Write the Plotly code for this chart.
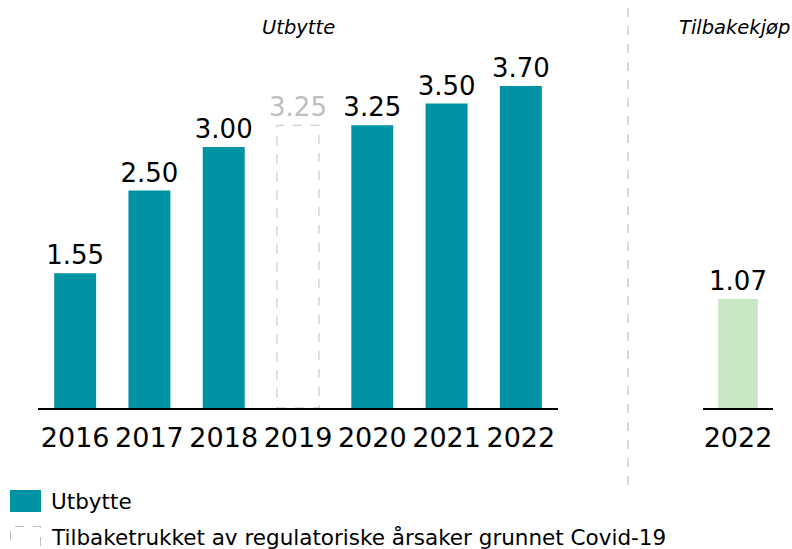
import plotly.graph_objects as go

# Dividend per share (NOK) by year
years = ["2016", "2017", "2018", "2019", "2020", "2021", "2022"]
dividend = [1.55, 2.50, 3.00, 3.25, 3.25, 3.50, 3.70]
withdrawn_year = "2019"

# Share buyback
buyback_years = ["2022"]
buyback = [1.07]

title_dividend = "Utbytte"
title_buyback = "Tilbakekjøp"
legend_labels = ["Utbytte", "Tilbaketrukket av regulatoriske årsaker grunnet Covid-19"]

TEAL = "#0093A3"
GREEN = "#C7E6C4"
GREY = "#BFBFBF"
FONT = "DejaVu Sans"

W, H = 792, 549


def px(x):
    return x / W


def py(y):
    return 1 - y / H


bar_colors = ["white" if y == withdrawn_year else TEAL for y in years]
text_colors = [GREY if y == withdrawn_year else "black" for y in years]

fig = go.Figure()
fig.add_trace(go.Bar(
    x=years, y=dividend, xaxis="x", yaxis="y",
    marker=dict(color=bar_colors, line=dict(width=0)),
    text=[f"{v:.2f}" for v in dividend], textposition="outside",
    textfont=dict(size=26, color=text_colors, family=FONT),
    constraintext="none", cliponaxis=False, showlegend=False,
))
fig.add_trace(go.Bar(
    x=buyback_years, y=buyback, xaxis="x2", yaxis="y2",
    marker=dict(color=GREEN, line=dict(width=0)),
    text=[f"{v:.2f}" for v in buyback], textposition="outside",
    textfont=dict(size=26, color="black", family=FONT),
    constraintext="none", cliponaxis=False, showlegend=False,
))

bar_width = 0.565
shapes = []
# dashed outline for the withdrawn dividend
i = years.index(withdrawn_year)
shapes.append(dict(type="rect", xref="x", yref="y",
                   x0=i - bar_width / 2, x1=i + bar_width / 2,
                   y0=0, y1=dividend[i],
                   line=dict(color=GREY, width=1, dash="dash"),
                   fillcolor="rgba(0,0,0,0)", layer="above"))
# separator between the two panels
shapes.append(dict(type="line", xref="paper", yref="paper",
                   x0=px(628), x1=px(628), y0=py(8), y1=py(486),
                   line=dict(color="#D9D9D9", width=2, dash="dash")))
# legend swatches
shapes.append(dict(type="rect", xref="paper", yref="paper",
                   x0=px(10), x1=px(41), y0=py(512), y1=py(490),
                   fillcolor=TEAL, line=dict(width=0)))
shapes.append(dict(type="rect", xref="paper", yref="paper",
                   x0=px(10.5), x1=px(40.5), y0=py(552), y1=py(526.5),
                   fillcolor="white", line=dict(color=GREY, width=1, dash="dash")))

annotations = [
    dict(text=f"<i>{title_dividend}</i>", xref="paper", yref="paper",
         x=px(298), y=py(28), showarrow=False, xanchor="center", yanchor="middle",
         font=dict(size=19.5, color="black", family=FONT)),
    dict(text=f"<i>{title_buyback}</i>", xref="paper", yref="paper",
         x=px(734.5), y=py(28), showarrow=False, xanchor="center", yanchor="middle",
         font=dict(size=19.5, color="black", family=FONT)),
    dict(text=legend_labels[0], xref="paper", yref="paper",
         x=px(49), y=py(501), showarrow=False, xanchor="left", yanchor="middle",
         font=dict(size=21.5, color="black", family=FONT)),
    dict(text=legend_labels[1], xref="paper", yref="paper",
         x=px(49), y=py(537), showarrow=False, xanchor="left", yanchor="middle",
         font=dict(size=21.5, color="black", family=FONT)),
]

base = 408
top = 8
fig.update_layout(
    width=W, height=H,
    margin=dict(l=0, r=0, t=0, b=0),
    paper_bgcolor="white", plot_bgcolor="white",
    bargap=1 - bar_width,
    font=dict(family=FONT, color="black"),
    xaxis=dict(domain=[px(38), px(558)], type="category",
               showline=True, linecolor="black", linewidth=2,
               ticks="", showgrid=False, zeroline=False,
               tickfont=dict(size=27, family=FONT, color="black"),
               ticklabelstandoff=5),
    yaxis=dict(domain=[py(base), py(top)], range=[0, (base - top) / 87.0],
               visible=False, showgrid=False, zeroline=False),
    xaxis2=dict(domain=[px(703), px(773)], type="category",
                showline=True, linecolor="black", linewidth=2,
                ticks="", showgrid=False, zeroline=False,
                tickfont=dict(size=27, family=FONT, color="black"),
                ticklabelstandoff=5, anchor="y2"),
    yaxis2=dict(domain=[py(base), py(top)], range=[0, (base - top) / 101.9],
                visible=False, showgrid=False, zeroline=False, anchor="x2"),
    shapes=shapes,
    annotations=annotations,
)

fig.write_html("out.html")
